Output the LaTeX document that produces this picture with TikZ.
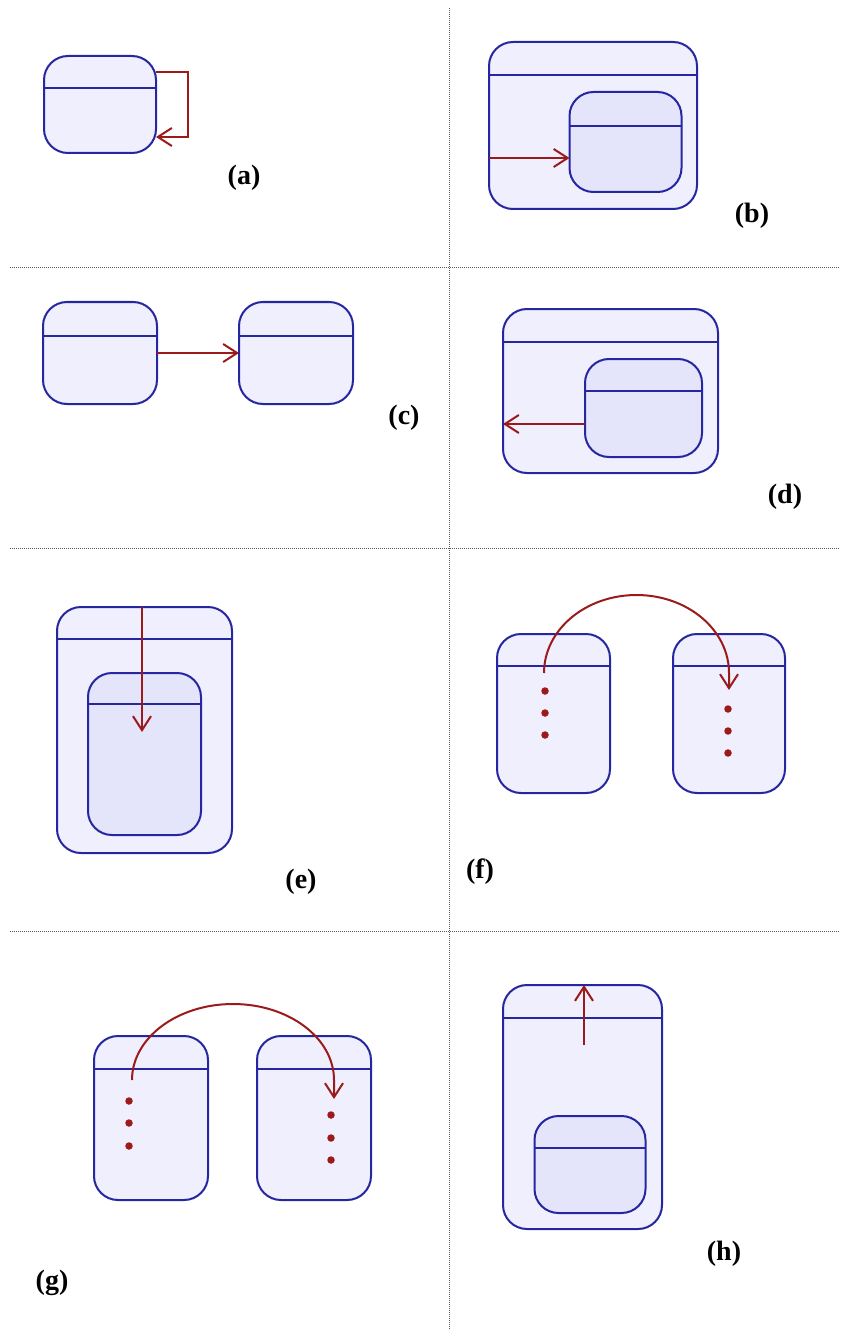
\documentclass[tikz,border=0pt]{standalone}
\usepackage{fontspec}
\setmainfont{Liberation Serif}
\usetikzlibrary{arrows.meta}
\definecolor{sblue}{RGB}{38,38,160}
\definecolor{sfill}{RGB}{239,239,253}
\definecolor{sfillin}{RGB}{228,229,251}
\definecolor{sred}{RGB}{155,26,26}
\definecolor{sepgray}{RGB}{90,90,90}
\tikzset{
  statebox/.style={draw=sblue, fill=sfill, line width=2pt, rounded corners=24pt, inner sep=0pt, outer sep=0pt},
  innerbox/.style={statebox, fill=sfillin},
  hdr/.style={draw=sblue, line width=2pt},
  trans/.style={draw=sred, line width=2pt, -{Straight Barb[length=14pt,width=18pt,line width=2pt]}},
  dotmark/.style={circle, fill=sred, inner sep=0pt, minimum size=7.5pt},
  lbl/.style={font=\bfseries\fontsize{28}{28}\selectfont, inner sep=0pt},
  sep/.style={draw=sepgray, line width=1pt, dash pattern=on 1pt off 1pt}
}
\begin{document}
\begin{tikzpicture}[x=1pt,y=1pt]
\useasboundingbox (0,0) rectangle (840,-1329);
% separators
\coordinate (vt) at (449,-8);
\coordinate (vb) at (449,-1329);
\coordinate (h1l) at (10,-268); \coordinate (h1r) at (840,-268);
\coordinate (h2l) at (10,-548); \coordinate (h2r) at (840,-548);
\coordinate (h3l) at (10,-931); \coordinate (h3r) at (840,-931);
\draw[sep] (vt) -- (vb);
\draw[sep] (h1l) -- (h1r);
\draw[sep] (h2l) -- (h2r);
\draw[sep] (h3l) -- (h3r);

% (a)
\node[statebox, minimum width=112pt, minimum height=97pt] (a1) at (100,-104.5) {};
\draw[hdr] (a1.west |- 0,-88) -- (a1.east |- 0,-88);
\draw[trans] (a1.east |- 0,-72) -- (188,-72) -- (188,-137) -- (a1.east |- 0,-137);
\node[lbl] (la) at (244,-178) {(a)};

% (b)
\node[statebox, minimum width=208pt, minimum height=167pt] (b1) at (593,-125.5) {};
\draw[hdr] (b1.west |- 0,-75) -- (b1.east |- 0,-75);
\node[innerbox, minimum width=112pt, minimum height=100pt] (b2) at (625.5,-142) {};
\draw[hdr] (b2.west |- 0,-126) -- (b2.east |- 0,-126);
\draw[trans] (b1.west |- 0,-158) -- (b2.west |- 0,-158);
\node[lbl] (lb) at (752,-216) {(b)};

% (c)
\node[statebox, minimum width=114pt, minimum height=102pt] (c1) at (100,-353) {};
\draw[hdr] (c1.west |- 0,-336) -- (c1.east |- 0,-336);
\node[statebox, minimum width=114pt, minimum height=102pt] (c2) at (296,-353) {};
\draw[hdr] (c2.west |- 0,-336) -- (c2.east |- 0,-336);
\draw[trans] (c1.east |- 0,-353) -- (c2.west |- 0,-353);
\node[lbl] (lc) at (404,-418) {(c)};

% (d)
\node[statebox, minimum width=215pt, minimum height=164pt] (d1) at (610.5,-391) {};
\draw[hdr] (d1.west |- 0,-342) -- (d1.east |- 0,-342);
\node[innerbox, minimum width=117pt, minimum height=98pt] (d2) at (643.5,-408) {};
\draw[hdr] (d2.west |- 0,-391) -- (d2.east |- 0,-391);
\draw[trans] (d2.west |- 0,-424) -- (d1.west |- 0,-424);
\node[lbl] (ld) at (785,-497) {(d)};

% (e)
\node[statebox, minimum width=175pt, minimum height=246pt] (e1) at (144.5,-730) {};
\draw[hdr] (e1.west |- 0,-639) -- (e1.east |- 0,-639);
\node[innerbox, minimum width=113pt, minimum height=162pt] (e2) at (144.5,-754) {};
\draw[hdr] (e2.west |- 0,-704) -- (e2.east |- 0,-704);
\coordinate (et) at (142,-732);
\draw[trans] (e1.north -| et) -- (et);
\node[lbl] (le) at (301,-882) {(e)};

% (f)
\node[statebox, minimum width=113pt, minimum height=159pt] (f1) at (553.5,-713.5) {};
\draw[hdr] (f1.west |- 0,-666) -- (f1.east |- 0,-666);
\node[statebox, minimum width=112pt, minimum height=159pt] (f2) at (729,-713.5) {};
\draw[hdr] (f2.west |- 0,-666) -- (f2.east |- 0,-666);
\coordinate (fs) at (544,-673);
\coordinate (fe) at (729,-690);
\draw[trans] (fs) arc[start angle=180, end angle=0, x radius=92.5, y radius=78] -- (fe);
\node[dotmark] (f1d1) at (545,-691) {};
\node[dotmark] (f1d2) at (545,-713) {};
\node[dotmark] (f1d3) at (545,-735) {};
\node[dotmark] (f2d1) at (728,-709) {};
\node[dotmark] (f2d2) at (728,-731) {};
\node[dotmark] (f2d3) at (728,-753) {};
\node[lbl] (lf) at (480,-872) {(f)};

% (g)
\node[statebox, minimum width=114pt, minimum height=164pt] (g1) at (151,-1118) {};
\draw[hdr] (g1.west |- 0,-1069) -- (g1.east |- 0,-1069);
\node[statebox, minimum width=114pt, minimum height=164pt] (g2) at (314,-1118) {};
\draw[hdr] (g2.west |- 0,-1069) -- (g2.east |- 0,-1069);
\coordinate (gs) at (132,-1080);
\coordinate (ge) at (334,-1099);
\draw[trans] (gs) arc[start angle=180, end angle=0, x radius=101, y radius=76] -- (ge);
\node[dotmark] (g1d1) at (129,-1101) {};
\node[dotmark] (g1d2) at (129,-1123) {};
\node[dotmark] (g1d3) at (129,-1146) {};
\node[dotmark] (g2d1) at (331,-1115) {};
\node[dotmark] (g2d2) at (331,-1138) {};
\node[dotmark] (g2d3) at (331,-1160) {};
\node[lbl] (lg) at (52,-1283) {(g)};

% (h)
\node[statebox, minimum width=159pt, minimum height=244pt] (h1) at (582.5,-1107) {};
\draw[hdr] (h1.west |- 0,-1018) -- (h1.east |- 0,-1018);
\node[innerbox, minimum width=111pt, minimum height=97pt] (h2) at (590,-1164.5) {};
\draw[hdr] (h2.west |- 0,-1148) -- (h2.east |- 0,-1148);
\coordinate (hs) at (584,-1045);
\draw[trans] (hs) -- (h1.north -| hs);
\node[lbl] (lh) at (724,-1254) {(h)};
\end{tikzpicture}
\end{document}
